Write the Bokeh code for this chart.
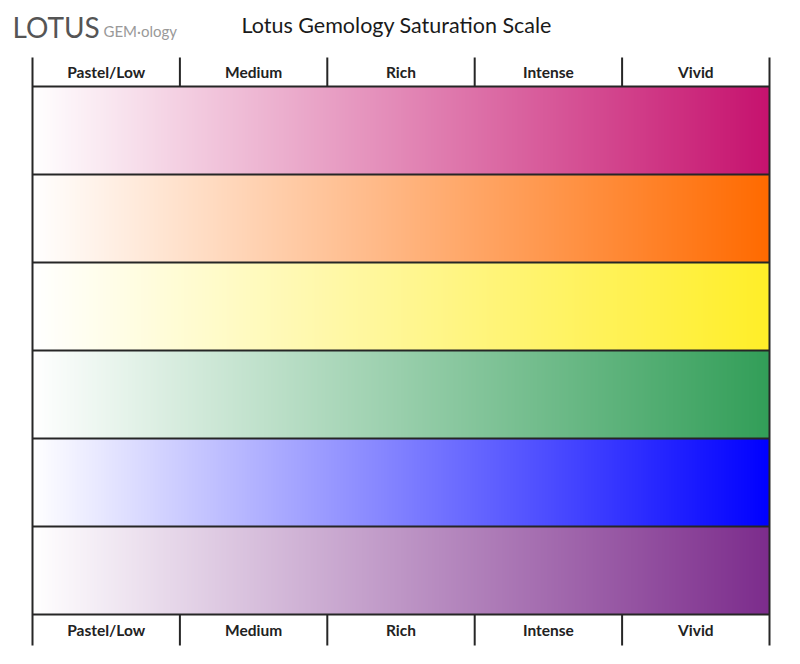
import numpy as np
from bokeh.plotting import figure
from bokeh.models import Range1d
from bokeh.core.properties import value
from bokeh.embed import file_html
from bokeh.resources import INLINE

# ---- data ----
levels = ["Pastel/Low", "Medium", "Rich", "Intense", "Vivid"]
hues = ["Pink", "Orange", "Yellow", "Green", "Blue", "Purple"]
end_colors = [(198, 18, 110), (255, 106, 0), (255, 238, 40),
              (50, 158, 88), (0, 0, 255), (124, 44, 140)]
start_color = (255, 255, 255)
title_text = "Lotus Gemology Saturation Scale"
logo_main = "LOTUS"
logo_sub = "GEM\u00b7ology"

n_levels = len(levels)
n_bands = len(hues)

# scale: 147.4 px per level unit, 88 px per band unit
px_x = 147.4
px_y = 88.0
W, H = 784, 648
x0 = -32 / px_x
y_top = -86 / px_y

p = figure(width=W, height=H, output_backend="svg", toolbar_location=None,
           x_range=Range1d(x0, x0 + W / px_x),
           y_range=Range1d(y_top + H / px_y, y_top),
           min_border=0, outline_line_color=None)
p.axis.visible = False
p.grid.visible = False
p.background_fill_color = "white"
p.border_fill_color = "white"

# gradient bands
N = 740
t = np.linspace(0, 1, N)
for i, ec in enumerate(end_colors):
    img = np.empty((1, N), dtype=np.uint32)
    view = img.view(dtype=np.uint8).reshape((1, N, 4))
    for c in range(3):
        view[0, :, c] = np.round(start_color[c] * (1 - t) + ec[c] * t).astype(np.uint8)
    view[0, :, 3] = 255
    p.image_rgba(image=[img], x=0, y=i, dw=n_levels, dh=1)

line_col = "#262626"
lw = 2
hdr = 29 / px_y      # header height in band units
ftr = 31 / px_y

# horizontal separators
ys = list(range(n_bands + 1))
p.segment(x0=[0] * len(ys), x1=[n_levels] * len(ys), y0=ys, y1=ys,
          line_color=line_col, line_width=lw)
# outer verticals
p.segment(x0=[0, n_levels], x1=[0, n_levels], y0=[-hdr, -hdr],
          y1=[n_bands + ftr, n_bands + ftr], line_color=line_col, line_width=lw)
# header / footer ticks
xs = list(range(1, n_levels))
p.segment(x0=xs, x1=xs, y0=[-hdr] * len(xs), y1=[0] * len(xs),
          line_color=line_col, line_width=lw)
p.segment(x0=xs, x1=xs, y0=[n_bands] * len(xs), y1=[n_bands + ftr] * len(xs),
          line_color=line_col, line_width=lw)

# level labels
cx = [i + 0.5 for i in range(n_levels)]
p.text(x=cx, y=[-hdr / 2] * n_levels, text=levels, text_align="center",
       text_baseline="middle", text_font=value("Lato"), text_font_size="15.5px",
       text_font_style="bold", text_color="#222222")
p.text(x=cx, y=[n_bands + ftr / 2] * n_levels, text=levels, text_align="center",
       text_baseline="middle", text_font=value("Lato"), text_font_size="15.5px",
       text_font_style="bold", text_color="#222222")

# title and logo
p.text(x=[(241 - 32) / px_x], y=[(24 - 86) / px_y], text=[title_text],
       text_align="left", text_baseline="alphabetic", text_font=value("Lato"),
       text_font_size="21.5px", text_color="#1a1a1a")
p.text(x=[(12 - 32) / px_x], y=[(26 - 86) / px_y], text=[logo_main],
       text_align="left", text_baseline="alphabetic", text_font=value("Lato"),
       text_font_size="28px", text_color="#555555")
p.text(x=[(103 - 32) / px_x], y=[(30 - 86) / px_y], text=[logo_sub],
       text_align="left", text_baseline="alphabetic", text_font=value("Lato"),
       text_font_size="15px", text_color="#999999")

open("out.html", "w").write(file_html(p, INLINE))
